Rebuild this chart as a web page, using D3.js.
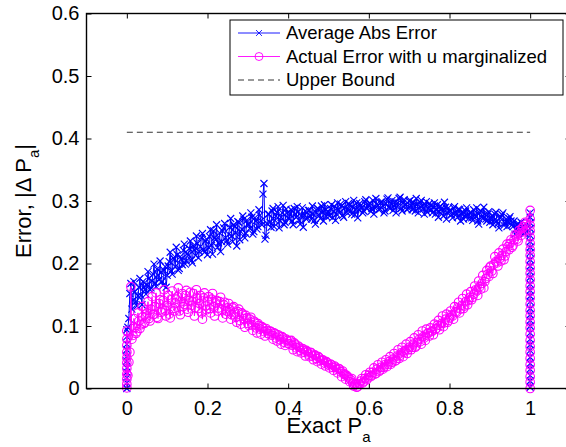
<!DOCTYPE html>
<html>
<head>
  <meta charset="utf-8">
  <script src="https://d3js.org/d3.v7.min.js"></script>
  <style>
    body { margin: 0; background: #fff; }
    text { font-family: "Liberation Sans", Arial, Helvetica, sans-serif; fill: #000; }
  </style>
</head>
<body>
<script type="text/javascript">
  "use strict";

  /*
    values
  */

  // first batch of runs: exact P_a and the two errors
  var exactPa = [
    0.005,0.01,0.015,0.02,0.025,0.03,0.035,0.04,0.045,0.05,
    0.055,0.06,0.065,0.07,0.075,0.08,0.085,0.09,0.095,0.1,
    0.105,0.11,0.115,0.12,0.125,0.13,0.135,0.14,0.145,0.15,
    0.155,0.16,0.165,0.17,0.175,0.18,0.185,0.19,0.195,0.2,
    0.205,0.21,0.215,0.22,0.225,0.23,0.235,0.24,0.245,0.25,
    0.255,0.26,0.265,0.27,0.275,0.28,0.285,0.29,0.295,0.3,
    0.305,0.31,0.315,0.32,0.325,0.33,0.335,0.34,0.345,0.35,
    0.355,0.36,0.365,0.37,0.375,0.38,0.385,0.39,0.395,0.4,
    0.405,0.41,0.415,0.42,0.425,0.43,0.435,0.44,0.445,0.45,
    0.455,0.46,0.465,0.47,0.475,0.48,0.485,0.49,0.495,0.5,
    0.505,0.51,0.515,0.52,0.525,0.53,0.535,0.54,0.545,0.55,
    0.555,0.56,0.565,0.57,0.575,0.58,0.585,0.59,0.595,0.6,
    0.605,0.61,0.615,0.62,0.625,0.63,0.635,0.64,0.645,0.65,
    0.655,0.66,0.665,0.67,0.675,0.68,0.685,0.69,0.695,0.7,
    0.705,0.71,0.715,0.72,0.725,0.73,0.735,0.74,0.745,0.75,
    0.755,0.76,0.765,0.77,0.775,0.78,0.785,0.79,0.795,0.8,
    0.805,0.81,0.815,0.82,0.825,0.83,0.835,0.84,0.845,0.85,
    0.855,0.86,0.865,0.87,0.875,0.88,0.885,0.89,0.895,0.9,
    0.905,0.91,0.915,0.92,0.925,0.93,0.935,0.94,0.945,0.95,
    0.955,0.96,0.965,0.97,0.975,0.98,0.985,0.99
  ];

  var avgAbsErr = [
    0.112,0.168,0.141,0.155,0.132,0.162,0.149,0.171,0.158,0.166,
    0.176,0.161,0.183,0.169,0.191,0.174,0.186,0.165,0.195,0.181,
    0.203,0.188,0.209,0.195,0.214,0.192,0.207,0.221,0.199,0.216,
    0.224,0.205,0.228,0.213,0.232,0.219,0.241,0.222,0.236,0.214,
    0.243,0.229,0.252,0.238,0.226,0.249,0.235,0.257,0.241,0.231,
    0.258,0.244,0.262,0.249,0.267,0.238,0.255,0.271,0.248,0.263,
    0.256,0.274,0.251,0.268,0.259,0.277,0.262,0.328,0.245,0.279,
    0.266,0.284,0.259,0.276,0.291,0.268,0.281,0.262,0.287,0.273,
    0.279,0.268,0.288,0.274,0.283,0.263,0.289,0.277,0.271,0.285,
    0.276,0.292,0.269,0.281,0.287,0.272,0.284,0.294,0.275,0.283,
    0.288,0.273,0.291,0.279,0.286,0.295,0.277,0.289,0.282,0.296,
    0.284,0.291,0.278,0.297,0.286,0.293,0.281,0.299,0.288,0.294,
    0.283,0.301,0.289,0.295,0.286,0.298,0.292,0.284,0.303,0.290,
    0.296,0.285,0.299,0.291,0.304,0.288,0.297,0.293,0.286,0.300,
    0.292,0.298,0.284,0.295,0.289,0.301,0.287,0.293,0.282,0.296,
    0.286,0.291,0.279,0.294,0.283,0.288,0.276,0.290,0.281,0.285,
    0.278,0.289,0.282,0.274,0.286,0.279,0.271,0.284,0.277,0.281,
    0.273,0.286,0.276,0.268,0.281,0.274,0.290,0.271,0.279,0.266,
    0.276,0.269,0.282,0.264,0.273,0.278,0.261,0.271,0.266,0.275,
    0.262,0.268,0.255,0.264,0.251,0.259,0.248,0.256
  ];

  var actualErr = [
    0.042,0.163,0.085,0.097,0.091,0.108,0.102,0.115,0.106,0.121,
    0.112,0.127,0.118,0.131,0.114,0.136,0.122,0.141,0.125,0.133,
    0.119,0.142,0.128,0.137,0.147,0.124,0.139,0.131,0.149,0.127,
    0.141,0.133,0.152,0.129,0.144,0.136,0.121,0.145,0.132,0.139,
    0.128,0.143,0.131,0.137,0.124,0.139,0.127,0.134,0.119,0.129,
    0.126,0.118,0.131,0.114,0.123,0.109,0.121,0.112,0.117,0.104,
    0.111,0.102,0.108,0.097,0.104,0.095,0.099,0.091,0.096,0.088,
    0.092,0.085,0.089,0.081,0.086,0.078,0.083,0.074,0.079,0.072,
    0.076,0.069,0.073,0.065,0.068,0.061,0.064,0.058,0.061,0.055,
    0.058,0.052,0.054,0.048,0.051,0.045,0.046,0.041,0.043,0.038,
    0.039,0.034,0.036,0.031,0.032,0.027,0.028,0.022,0.021,0.017,
    0.014,0.009,0.006,0.002,0.008,0.012,0.009,0.016,0.014,0.021,
    0.019,0.026,0.023,0.031,0.027,0.034,0.031,0.038,0.035,0.043,
    0.039,0.047,0.044,0.052,0.048,0.057,0.051,0.061,0.056,0.066,
    0.062,0.071,0.066,0.074,0.079,0.071,0.083,0.077,0.088,0.084,
    0.091,0.086,0.095,0.101,0.094,0.104,0.099,0.111,0.106,0.113,
    0.118,0.111,0.123,0.129,0.121,0.133,0.128,0.139,0.134,0.146,
    0.142,0.151,0.158,0.149,0.163,0.168,0.161,0.176,0.183,0.194,
    0.188,0.199,0.203,0.196,0.208,0.213,0.206,0.219,0.227,0.232,
    0.226,0.238,0.244,0.236,0.249,0.256,0.251,0.263
  ];

  // second batch of runs, lying between the first ones
  var exactPaB = [
    0.0025,0.0075,0.0125,0.0175,0.0225,0.0275,0.0325,0.0375,0.0425,0.0475,
    0.0525,0.0575,0.0625,0.0675,0.0725,0.0775,0.0825,0.0875,0.0925,0.0975,
    0.1025,0.1075,0.1125,0.1175,0.1225,0.1275,0.1325,0.1375,0.1425,0.1475,
    0.1525,0.1575,0.1625,0.1675,0.1725,0.1775,0.1825,0.1875,0.1925,0.1975,
    0.2025,0.2075,0.2125,0.2175,0.2225,0.2275,0.2325,0.2375,0.2425,0.2475,
    0.2525,0.2575,0.2625,0.2675,0.2725,0.2775,0.2825,0.2875,0.2925,0.2975,
    0.3025,0.3075,0.3125,0.3175,0.3225,0.3275,0.3325,0.3375,0.3425,0.3475,
    0.3525,0.3575,0.3625,0.3675,0.3725,0.3775,0.3825,0.3875,0.3925,0.3975,
    0.4025,0.4075,0.4125,0.4175,0.4225,0.4275,0.4325,0.4375,0.4425,0.4475,
    0.4525,0.4575,0.4625,0.4675,0.4725,0.4775,0.4825,0.4875,0.4925,0.4975,
    0.5025,0.5075,0.5125,0.5175,0.5225,0.5275,0.5325,0.5375,0.5425,0.5475,
    0.5525,0.5575,0.5625,0.5675,0.5725,0.5775,0.5825,0.5875,0.5925,0.5975,
    0.6025,0.6075,0.6125,0.6175,0.6225,0.6275,0.6325,0.6375,0.6425,0.6475,
    0.6525,0.6575,0.6625,0.6675,0.6725,0.6775,0.6825,0.6875,0.6925,0.6975,
    0.7025,0.7075,0.7125,0.7175,0.7225,0.7275,0.7325,0.7375,0.7425,0.7475,
    0.7525,0.7575,0.7625,0.7675,0.7725,0.7775,0.7825,0.7875,0.7925,0.7975,
    0.8025,0.8075,0.8125,0.8175,0.8225,0.8275,0.8325,0.8375,0.8425,0.8475,
    0.8525,0.8575,0.8625,0.8675,0.8725,0.8775,0.8825,0.8875,0.8925,0.8975,
    0.9025,0.9075,0.9125,0.9175,0.9225,0.9275,0.9325,0.9375,0.9425,0.9475,
    0.9525,0.9575,0.9625,0.9675,0.9725,0.9775,0.9825,0.9875
  ];

  var avgAbsErrB = [
    0.098,0.152,0.127,0.171,0.139,0.148,0.176,0.134,0.163,0.151,
    0.187,0.158,0.172,0.199,0.163,0.181,0.204,0.171,0.189,0.162,
    0.196,0.218,0.183,0.207,0.226,0.189,0.211,0.198,0.231,0.204,
    0.213,0.236,0.201,0.222,0.244,0.209,0.227,0.248,0.218,0.239,
    0.226,0.254,0.215,0.241,0.262,0.233,0.219,0.252,0.264,0.236,
    0.247,0.272,0.235,0.259,0.228,0.266,0.251,0.276,0.241,0.269,
    0.262,0.281,0.247,0.273,0.255,0.286,0.268,0.311,0.239,0.264,
    0.279,0.258,0.288,0.269,0.282,0.257,0.274,0.293,0.266,0.281,
    0.271,0.286,0.262,0.279,0.291,0.269,0.276,0.258,0.284,0.273,
    0.285,0.271,0.279,0.263,0.288,0.277,0.292,0.268,0.286,0.279,
    0.276,0.294,0.283,0.269,0.297,0.281,0.292,0.274,0.299,0.287,
    0.293,0.279,0.301,0.287,0.273,0.296,0.289,0.284,0.302,0.291,
    0.297,0.288,0.279,0.304,0.293,0.287,0.299,0.281,0.296,0.305,
    0.288,0.301,0.292,0.281,0.297,0.306,0.284,0.302,0.295,0.289,
    0.301,0.286,0.293,0.304,0.281,0.298,0.292,0.279,0.299,0.288,
    0.293,0.281,0.297,0.286,0.274,0.292,0.284,0.298,0.271,0.289,
    0.284,0.273,0.291,0.279,0.287,0.268,0.283,0.276,0.289,0.272,
    0.281,0.269,0.277,0.289,0.263,0.284,0.272,0.279,0.268,0.283,
    0.271,0.262,0.279,0.268,0.257,0.274,0.281,0.265,0.259,0.272,
    0.268,0.259,0.247,0.262,0.254,0.266,0.258,0.249
  ];

  var actualErrB = [
    0.021,0.058,0.079,0.112,0.088,0.121,0.096,0.131,0.104,0.126,
    0.139,0.108,0.147,0.119,0.153,0.112,0.142,0.127,0.158,0.116,
    0.149,0.113,0.156,0.124,0.143,0.161,0.118,0.152,0.135,0.157,
    0.122,0.154,0.139,0.116,0.158,0.128,0.149,0.111,0.153,0.126,
    0.147,0.121,0.152,0.116,0.141,0.129,0.146,0.113,0.138,0.124,
    0.136,0.111,0.129,0.121,0.106,0.127,0.103,0.119,0.098,0.113,
    0.101,0.114,0.093,0.106,0.089,0.101,0.087,0.097,0.084,0.093,
    0.087,0.091,0.079,0.088,0.076,0.084,0.071,0.081,0.069,0.077,
    0.071,0.077,0.062,0.071,0.059,0.066,0.057,0.063,0.052,0.059,
    0.051,0.057,0.046,0.053,0.043,0.049,0.039,0.045,0.036,0.041,
    0.033,0.038,0.029,0.034,0.025,0.031,0.019,0.024,0.015,0.019,
    0.011,0.016,0.004,0.008,0.003,0.007,0.016,0.011,0.022,0.017,
    0.026,0.021,0.033,0.024,0.038,0.029,0.042,0.034,0.046,0.039,
    0.051,0.042,0.056,0.045,0.062,0.053,0.066,0.058,0.071,0.062,
    0.075,0.066,0.081,0.068,0.086,0.075,0.092,0.081,0.095,0.089,
    0.097,0.092,0.103,0.096,0.109,0.101,0.116,0.105,0.119,0.109,
    0.124,0.116,0.131,0.122,0.138,0.127,0.144,0.132,0.151,0.141,
    0.155,0.146,0.164,0.156,0.172,0.159,0.181,0.171,0.189,0.179,
    0.196,0.184,0.211,0.201,0.217,0.204,0.223,0.212,0.231,0.222,
    0.238,0.229,0.246,0.239,0.253,0.245,0.259,0.266
  ];

  // runs that sit exactly on P_a = 0
  var edge0Avg = [0, 0.009, 0.017, 0.026, 0.033, 0.044, 0.051, 0.062, 0.071, 0.083, 0.094];
  var edge0Act = [0.001, 0.007, 0.015, 0.023, 0.032, 0.041, 0.049, 0.058, 0.069, 0.079, 0.092];

  // runs that sit exactly on P_a = 1
  var edge1Avg = [0.281, 0.274, 0.265, 0.256, 0.245, 0.235, 0.226, 0.217, 0.206, 0.196,
                  0.187, 0.178, 0.167, 0.157, 0.148, 0.139, 0.128, 0.118, 0.109, 0.1,
                  0.089, 0.079, 0.07, 0.061, 0.05, 0.04, 0.031, 0.021, 0.012, 0.002];
  var edge1Act = [0.285, 0.271, 0.261, 0.252, 0.242, 0.232, 0.222, 0.213, 0.203, 0.193,
                  0.184, 0.174, 0.164, 0.155, 0.145, 0.135, 0.125, 0.116, 0.106, 0.097,
                  0.087, 0.077, 0.067, 0.058, 0.048, 0.038, 0.029, 0.019, 0.01, 0];

  var upperBound = 0.41;

  var xTicks = [0, 0.2, 0.4, 0.6, 0.8, 1];
  var yTicks = [0, 0.1, 0.2, 0.3, 0.4, 0.5, 0.6];
  var legendLabels = ["Average Abs Error", "Actual Error with u marginalized", "Upper Bound"];

  /*
    D3 setup
  */

  var width = 566,
      height = 447;

  var svg = d3.select("body")
    .append("svg")
      .attr("width", width)
      .attr("height", height);

  // MATLAB axis is [-0.1 1.1], the right edge falls just outside the picture
  var x = d3.scaleLinear().domain([-0.1, 1.1]).range([86.5, 570.5]);
  var y = d3.scaleLinear().domain([0, 0.6]).range([388.5, 13.5]);

  // one row per run, sorted by P_a as it was plotted
  var runs = [];
  edge0Avg.forEach(function (v, i) { runs.push({x: 0, avg: v, act: edge0Act[i]}); });
  exactPa.forEach(function (v, i) { runs.push({x: v, avg: avgAbsErr[i], act: actualErr[i]}); });
  exactPaB.forEach(function (v, i) { runs.push({x: v, avg: avgAbsErrB[i], act: actualErrB[i]}); });
  edge1Avg.forEach(function (v, i) { runs.push({x: 1, avg: v, act: edge1Act[i]}); });
  runs.sort(function (a, b) { return a.x - b.x; });

  var blue = "#0000ff",
      magenta = "#ff00ff";

  var crossPath = "M-3.5,-3.5L3.5,3.5M-3.5,3.5L3.5,-3.5";

  // axes, ticks point inwards on all four sides
  var gx = svg.append("g")
      .attr("transform", "translate(0," + y(0) + ")")
      .call(d3.axisBottom(x).tickValues(xTicks).tickFormat(d3.format("")).tickSizeInner(-5).tickSizeOuter(0).tickPadding(12));
  var gxTop = svg.append("g")
      .attr("transform", "translate(0," + y(0.6) + ")")
      .call(d3.axisTop(x).tickValues(xTicks).tickFormat("").tickSizeInner(-5).tickSizeOuter(0));
  var gy = svg.append("g")
      .attr("transform", "translate(" + x(-0.1) + ",0)")
      .call(d3.axisLeft(y).tickValues(yTicks).tickFormat(d3.format("")).tickSizeInner(-5).tickSizeOuter(0).tickPadding(7));
  var gyRight = svg.append("g")
      .attr("transform", "translate(" + x(1.1) + ",0)")
      .call(d3.axisRight(y).tickValues(yTicks).tickFormat("").tickSizeInner(-5).tickSizeOuter(0));

  [gx, gxTop, gy, gyRight].forEach(function (g) {
    g.select(".domain").remove();
    g.selectAll(".tick line").attr("stroke", "#000").attr("stroke-width", 1);
    g.selectAll(".tick text").style("font-size", "20px").attr("fill", "#000");
  });

  /*
    series
  */

  var line = d3.line();

  svg.append("path")
      .attr("d", line(runs.map(function (d) { return [x(d.x), y(d.avg)]; })))
      .attr("fill", "none")
      .attr("stroke", blue)
      .attr("stroke-width", 1);

  svg.append("g").selectAll("path")
      .data(runs)
    .enter().append("path")
      .attr("transform", function (d) { return "translate(" + x(d.x) + "," + y(d.avg) + ")"; })
      .attr("d", crossPath)
      .attr("fill", "none")
      .attr("stroke", blue)
      .attr("stroke-width", 1.1);

  svg.append("path")
      .attr("d", line(runs.map(function (d) { return [x(d.x), y(d.act)]; })))
      .attr("fill", "none")
      .attr("stroke", magenta)
      .attr("stroke-width", 1);

  svg.append("g").selectAll("circle")
      .data(runs)
    .enter().append("circle")
      .attr("cx", function (d) { return x(d.x); })
      .attr("cy", function (d) { return y(d.act); })
      .attr("r", 4.3)
      .attr("fill", "none")
      .attr("stroke", magenta)
      .attr("stroke-width", 1.1);

  svg.append("line")
      .attr("x1", x(0)).attr("x2", x(1))
      .attr("y1", y(upperBound)).attr("y2", y(upperBound))
      .attr("stroke", "#000")
      .attr("stroke-width", 0.8)
      .attr("stroke-dasharray", "6,4");

  // axis box
  svg.append("rect")
      .attr("x", x(-0.1)).attr("y", y(0.6))
      .attr("width", x(1.1) - x(-0.1))
      .attr("height", y(0) - y(0.6))
      .attr("fill", "none")
      .attr("stroke", "#000")
      .attr("stroke-width", 1.4);

  /*
    labels
  */

  var xLabel = svg.append("text")
      .attr("x", (x(-0.1) + x(1.1)) / 2)
      .attr("y", 433)
      .attr("text-anchor", "middle")
      .style("font-size", "22px");
  xLabel.append("tspan").text("Exact P");
  xLabel.append("tspan").attr("dy", 9).style("font-size", "15px").text("a");

  var yLabel = svg.append("text")
      .attr("transform", "translate(31," + ((y(0) + y(0.6)) / 2) + ") rotate(-90)")
      .attr("text-anchor", "middle")
      .style("font-size", "22px");
  yLabel.append("tspan").text("Error, |\u0394 P");
  yLabel.append("tspan").attr("dy", 8).style("font-size", "15px").text("a");
  yLabel.append("tspan").attr("dy", -8).text("|");

  /*
    legend
  */

  var legend = svg.append("g");
  legend.append("rect")
      .attr("x", 230).attr("y", 20)
      .attr("width", 333).attr("height", 75)
      .attr("fill", "#fff")
      .attr("stroke", "#000")
      .attr("stroke-width", 1);

  var rowY = [33, 56.5, 80];
  var rowColor = [blue, magenta, "#000"];

  legendLabels.forEach(function (label, i) {
    var row = legend.append("g").attr("transform", "translate(0," + rowY[i] + ")");
    row.append("line")
        .attr("x1", 238).attr("x2", 280)
        .attr("stroke", rowColor[i])
        .attr("stroke-width", i === 2 ? 0.8 : 0.9)
        .attr("stroke-dasharray", i === 2 ? "6,4" : null);
    if (i === 0) {
      row.append("path").attr("transform", "translate(259,0) scale(0.85)").attr("d", crossPath)
          .attr("fill", "none").attr("stroke", blue).attr("stroke-width", 1);
    }
    if (i === 1) {
      row.append("circle").attr("cx", 259).attr("r", 4)
          .attr("fill", "none").attr("stroke", magenta).attr("stroke-width", 0.9);
    }
    row.append("text")
        .attr("x", 286)
        .attr("dy", "0.35em")
        .style("font-size", "18.5px")
        .text(label);
  });
</script>
</body>
</html>
